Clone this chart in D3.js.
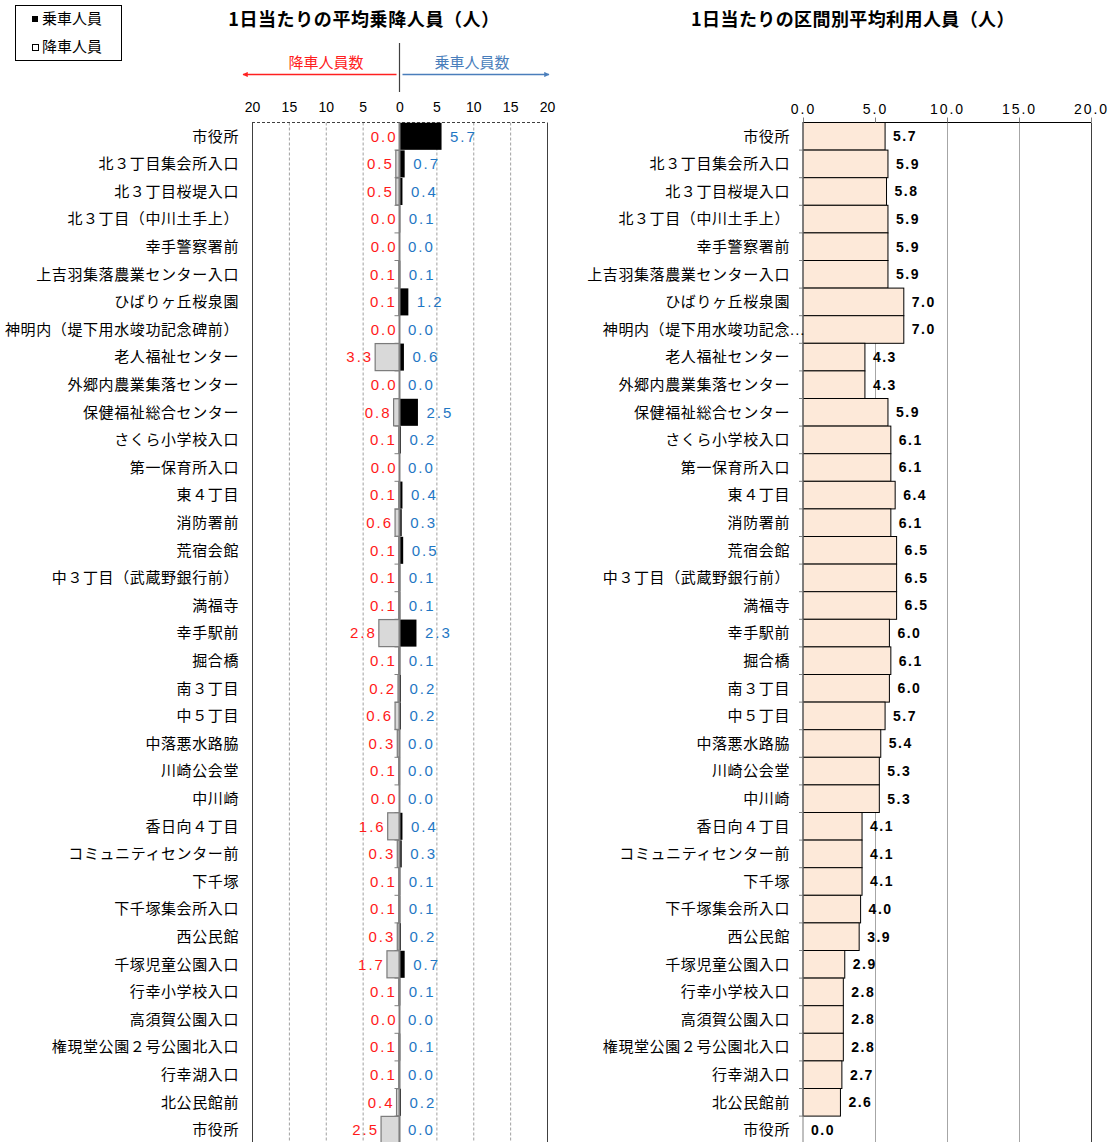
<!DOCTYPE html>
<html lang="ja">
<head>
<meta charset="utf-8">
<script src="https://cdn.jsdelivr.net/npm/d3@7"></script>
<style>
  html, body { margin: 0; padding: 0; background: #fff; }
  svg { display: block; }
  .jp { font-family: "Noto Sans CJK JP", "Noto Sans", sans-serif; }
  .num { font-family: "Liberation Sans", Arial, sans-serif; }
</style>
</head>
<body>
<svg id="chart" width="1115" height="1142"></svg>
<script>
// バス停（上り順）
const stops = [
  "市役所", "北３丁目集会所入口", "北３丁目桜堤入口", "北３丁目（中川土手上）",
  "幸手警察署前", "上吉羽集落農業センター入口", "ひばりヶ丘桜泉園",
  "神明内（堤下用水竣功記念碑前）", "老人福祉センター", "外郷内農業集落センター",
  "保健福祉総合センター", "さくら小学校入口", "第一保育所入口", "東４丁目",
  "消防署前", "荒宿会館", "中３丁目（武蔵野銀行前）", "満福寺", "幸手駅前",
  "掘合橋", "南３丁目", "中５丁目", "中落悪水路脇", "川崎公会堂", "中川崎",
  "香日向４丁目", "コミュニティセンター前", "下千塚", "下千塚集会所入口",
  "西公民館", "千塚児童公園入口", "行幸小学校入口", "高須賀公園入口",
  "権現堂公園２号公園北入口", "行幸湖入口", "北公民館前", "市役所"
];
// 区間別グラフ側の表示名（長い名称は途中で省略）
const longName = "神明内（堤下用水竣功記念碑前）";
const shortName = "神明内（堤下用水竣功記念";

// 1日当たり乗車人員
const boarding = [5.7, 0.7, 0.4, 0.1, 0.0, 0.1, 1.2, 0.0, 0.6, 0.0, 2.5, 0.2, 0.0, 0.4, 0.3, 0.5,
  0.1, 0.1, 2.3, 0.1, 0.2, 0.2, 0.0, 0.0, 0.0, 0.4, 0.3, 0.1, 0.1, 0.2, 0.7, 0.1, 0.0, 0.1, 0.0, 0.2, 0.0];
// 1日当たり降車人員
const alighting = [0.0, 0.5, 0.5, 0.0, 0.0, 0.1, 0.1, 0.0, 3.3, 0.0, 0.8, 0.1, 0.0, 0.1, 0.6, 0.1,
  0.1, 0.1, 2.8, 0.1, 0.2, 0.6, 0.3, 0.1, 0.0, 1.6, 0.3, 0.1, 0.1, 0.3, 1.7, 0.1, 0.0, 0.1, 0.1, 0.4, 2.5];
// 1日当たり区間別平均利用人員
const sectionRiders = [5.7, 5.9, 5.8, 5.9, 5.9, 5.9, 7.0, 7.0, 4.3, 4.3, 5.9, 6.1, 6.1, 6.4, 6.1, 6.5,
  6.5, 6.5, 6.0, 6.1, 6.0, 5.7, 5.4, 5.3, 5.3, 4.1, 4.1, 4.1, 4.0, 3.9, 2.9, 2.8, 2.8, 2.8, 2.7, 2.6, 0.0];

// 軸目盛
const leftTicks = [-20, -15, -10, -5, 0, 5, 10, 15, 20];
const rightTicks = [0, 5, 10, 15, 20];

const svg = d3.select("#chart");
const idx = d3.range(stops.length);

const plotTop = 122.5;
const rowH = 27.6;
const plotBottom = plotTop + rowH * stops.length;

const y = d3.scaleBand().domain(idx).range([plotTop, plotBottom]).paddingInner(0.02).paddingOuter(0.01);
const yc = i => plotTop + rowH * (i + 0.5);

// ---------- 凡例 ----------
const legend = svg.append("g");
legend.append("rect").attr("x", 15.5).attr("y", 5.5).attr("width", 106).attr("height", 55)
  .attr("fill", "#fff").attr("stroke", "#000").attr("stroke-width", 1);
legend.append("rect").attr("x", 32).attr("y", 16).attr("width", 6).attr("height", 6).attr("fill", "#000");
legend.append("rect").attr("x", 32.5).attr("y", 44.5).attr("width", 6).attr("height", 6)
  .attr("fill", "#fff").attr("stroke", "#000").attr("stroke-width", 1);
legend.append("text").attr("class", "jp").attr("x", 42).attr("y", 19).attr("dy", "0.35em")
  .attr("font-size", 15).text("乗車人員");
legend.append("text").attr("class", "jp").attr("x", 42).attr("y", 47).attr("dy", "0.35em")
  .attr("font-size", 15).text("降車人員");

// ---------- 左：乗降人員 ----------
const xL = d3.scaleLinear().domain([-20, 20]).range([252, 547]);
const x0 = xL(0);

svg.append("text").attr("class", "jp").attr("x", 364).attr("y", 20).attr("dy", "0.35em")
  .attr("text-anchor", "middle").attr("font-size", 18).attr("font-weight", "bold").attr("letter-spacing", 0.6)
  .text("1日当たりの平均乗降人員（人）");

// 方向矢印
const defs = svg.append("defs");
function arrowMarker(id, color) {
  defs.append("marker").attr("id", id).attr("viewBox", "0 0 10 10")
    .attr("refX", 9).attr("refY", 5).attr("markerWidth", 3.5).attr("markerHeight", 3.5)
    .attr("orient", "auto-start-reverse")
    .append("path").attr("d", "M0,0 L10,5 L0,10 Z").attr("fill", color);
}
arrowMarker("arrRed", "#ff2020");
arrowMarker("arrBlue", "#4a7ebb");

const blue = "#1f77c4";
svg.append("line").attr("x1", x0 - 3).attr("x2", 243).attr("y1", 74.5).attr("y2", 74.5)
  .attr("stroke", "#ff2020").attr("stroke-width", 1.5).attr("marker-end", "url(#arrRed)");
svg.append("line").attr("x1", x0 + 3).attr("x2", 549).attr("y1", 74.5).attr("y2", 74.5)
  .attr("stroke", "#4a7ebb").attr("stroke-width", 1.5).attr("marker-end", "url(#arrBlue)");
svg.append("line").attr("x1", x0).attr("x2", x0).attr("y1", 43).attr("y2", 92)
  .attr("stroke", "#404040").attr("stroke-width", 1.2);
svg.append("text").attr("class", "jp").attr("x", 326).attr("y", 63).attr("dy", "0.35em")
  .attr("text-anchor", "middle").attr("font-size", 15).attr("fill", "#ff2020").text("降車人員数");
svg.append("text").attr("class", "jp").attr("x", 472).attr("y", 63).attr("dy", "0.35em")
  .attr("text-anchor", "middle").attr("font-size", 15).attr("fill", "#4a7ebb").text("乗車人員数");

// 上部目盛
const axL = svg.append("g").attr("transform", `translate(0,${plotTop})`)
  .call(d3.axisTop(xL).tickValues(leftTicks).tickFormat(d => Math.abs(d)).tickSize(0).tickPadding(11));
axL.select(".domain").remove();
axL.selectAll("text").attr("class", "num").attr("font-size", 14).attr("fill", "#000");

// 補助線（破線）
svg.append("g").selectAll("line").data(leftTicks.filter(t => t !== 0 && Math.abs(t) !== 20)).join("line")
  .attr("x1", d => xL(d) + 0.5).attr("x2", d => xL(d) + 0.5)
  .attr("y1", plotTop).attr("y2", plotBottom + 10)
  .attr("stroke", "#a0a0a0").attr("stroke-dasharray", "3,2");
// 枠
svg.append("line").attr("x1", xL(-20)).attr("x2", xL(20)).attr("y1", plotTop).attr("y2", plotTop)
  .attr("stroke", "#404040").attr("stroke-dasharray", "3,2");
[xL(-20), xL(20)].forEach(xx => {
  svg.append("line").attr("x1", xx + 0.5).attr("x2", xx + 0.5).attr("y1", plotTop).attr("y2", plotBottom + 10)
    .attr("stroke", "#404040");
});

// 棒
svg.append("g").selectAll("rect").data(idx.filter(i => alighting[i] > 0)).join("rect")
  .attr("x", i => xL(-alighting[i])).attr("y", i => y(i))
  .attr("width", i => x0 - xL(-alighting[i])).attr("height", y.bandwidth())
  .attr("fill", "#d9d9d9").attr("stroke", "#7a7a7a").attr("stroke-width", 1.2);
svg.append("g").selectAll("rect").data(idx.filter(i => boarding[i] > 0)).join("rect")
  .attr("x", x0).attr("y", i => y(i))
  .attr("width", i => xL(boarding[i]) - x0).attr("height", y.bandwidth())
  .attr("fill", "#000");

// ゼロ軸と区切り目盛
svg.append("line").attr("x1", x0).attr("x2", x0).attr("y1", plotTop).attr("y2", plotBottom + 10)
  .attr("stroke", "#808080").attr("stroke-width", 2);
svg.append("g").selectAll("line").data(d3.range(1, stops.length)).join("line")
  .attr("x1", x0 - 5).attr("x2", x0).attr("y1", i => plotTop + rowH * i).attr("y2", i => plotTop + rowH * i)
  .attr("stroke", "#808080");

// 数値ラベル
svg.append("g").selectAll("text").data(idx).join("text")
  .attr("class", "num").attr("x", i => xL(-alighting[i]) - 2).attr("y", yc).attr("dy", "0.35em")
  .attr("text-anchor", "end").attr("font-size", 15).attr("letter-spacing", 2).attr("fill", "#ff1a1a")
  .text(i => alighting[i].toFixed(1));
svg.append("g").selectAll("text").data(idx).join("text")
  .attr("class", "num").attr("x", i => xL(boarding[i]) + 8.5).attr("y", yc).attr("dy", "0.35em")
  .attr("font-size", 15).attr("letter-spacing", 2).attr("fill", blue)
  .text(i => boarding[i].toFixed(1));

// バス停名
svg.append("g").selectAll("text").data(idx).join("text")
  .attr("class", "jp").attr("x", 239).attr("y", yc).attr("dy", "0.35em")
  .attr("text-anchor", "end").attr("font-size", 15).attr("letter-spacing", 0.6).attr("fill", "#000")
  .text(i => stops[i]);

// ---------- 右：区間別平均利用人員 ----------
const xR = d3.scaleLinear().domain([0, 20]).range([803, 1091]);

svg.append("text").attr("class", "jp").attr("x", 853).attr("y", 20).attr("dy", "0.35em")
  .attr("text-anchor", "middle").attr("font-size", 18).attr("font-weight", "bold").attr("letter-spacing", 0.4)
  .text("1日当たりの区間別平均利用人員（人）");

// 目盛線
svg.append("g").selectAll("line").data(rightTicks.filter(t => t > 0 && t < 20)).join("line")
  .attr("x1", d => xR(d) + 0.5).attr("x2", d => xR(d) + 0.5).attr("y1", plotTop).attr("y2", plotBottom + 10)
  .attr("stroke", "#a6a6a6");
svg.append("line").attr("x1", xR(20) + 0.5).attr("x2", xR(20) + 0.5).attr("y1", plotTop).attr("y2", plotBottom + 10)
  .attr("stroke", "#404040");

// 棒
svg.append("g").selectAll("rect").data(idx.filter(i => sectionRiders[i] > 0)).join("rect")
  .attr("x", xR(0)).attr("y", i => plotTop + rowH * i)
  .attr("width", i => xR(sectionRiders[i]) - xR(0)).attr("height", rowH)
  .attr("fill", "#fde9d9").attr("stroke", "#000").attr("stroke-width", 1);

// 上部軸
const axR = svg.append("g").attr("transform", `translate(0,${plotTop})`)
  .call(d3.axisTop(xR).tickValues(rightTicks).tickFormat(d3.format(".1f")).tickSize(5).tickPadding(4));
axR.select(".domain").attr("stroke", "#000").attr("d", `M${xR(0)},0H${xR(20)}`);
axR.selectAll(".tick line").attr("stroke", "#808080");
axR.selectAll("text").attr("class", "num").attr("font-size", 14).attr("letter-spacing", 2).attr("fill", "#000");

// 左軸と区切り目盛
svg.append("line").attr("x1", xR(0)).attr("x2", xR(0)).attr("y1", plotTop).attr("y2", plotBottom + 10)
  .attr("stroke", "#808080");
svg.append("g").selectAll("line").data(d3.range(1, stops.length)).join("line")
  .attr("x1", xR(0) - 4).attr("x2", xR(0)).attr("y1", i => plotTop + rowH * i).attr("y2", i => plotTop + rowH * i)
  .attr("stroke", "#808080");

// 数値ラベル
svg.append("g").selectAll("text").data(idx).join("text")
  .attr("class", "num").attr("x", i => xR(sectionRiders[i]) + 8).attr("y", yc)
  .attr("dy", "0.35em").attr("font-size", 14).attr("font-weight", "bold").attr("letter-spacing", 1.5)
  .attr("fill", "#000").text(i => sectionRiders[i].toFixed(1));

// バス停名（長い名称は末尾を省略記号で表示）
const rightNames = svg.append("g");
rightNames.selectAll("text").data(idx).join("text")
  .attr("class", "jp").attr("x", 790).attr("y", yc).attr("dy", "0.35em")
  .attr("text-anchor", "end").attr("font-size", 15).attr("letter-spacing", 0.6).attr("fill", "#000")
  .text(i => stops[i] === longName ? shortName : stops[i]);
idx.filter(i => stops[i] === longName).forEach(i => {
  rightNames.append("text").attr("class", "num").attr("x", 790).attr("y", yc(i)).attr("dy", "0.35em")
    .attr("font-size", 15).attr("letter-spacing", 1).attr("fill", "#000").text("...");
});
</script>
</body>
</html>
